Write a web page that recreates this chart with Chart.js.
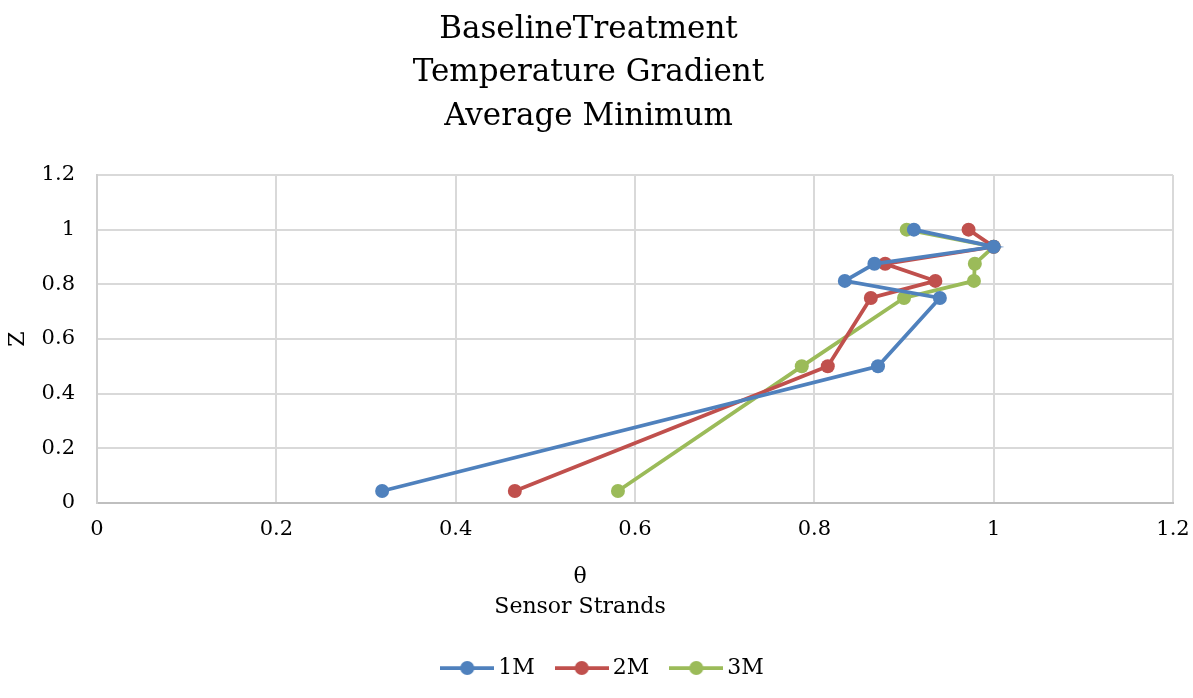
<!DOCTYPE html>
<html>
<head>
<meta charset="utf-8">
<title>BaselineTreatment Temperature Gradient</title>
<script src="https://cdn.jsdelivr.net/npm/chart.js@4/dist/chart.umd.min.js"></script>
<style>
  html, body { margin: 0; padding: 0; background: #fff; }
  #wrap { width: 1193px; height: 698px; position: relative; }
</style>
</head>
<body>
<div id="wrap"><canvas id="gradChart"></canvas></div>
<script>
// Sensor heights (Z) and the averaged minimum theta for each strand
const zLevels = [0.044, 0.5, 0.75, 0.8125, 0.875, 0.9375, 1];
const theta1M = [0.318, 0.871, 0.940, 0.834, 0.867, 1.0, 0.911];
const theta2M = [0.466, 0.815, 0.863, 0.935, 0.879, 1.0, 0.972];
const theta3M = [0.581, 0.786, 0.900, 0.978, 0.979, 1.0, 0.903];
const seriesNames = ['1M', '2M', '3M'];
const axisTicks = [0, 0.2, 0.4, 0.6, 0.8, 1, 1.2];

const seriesColors = ['#4f81bd', '#c0504d', '#9bbb59'];
const serif = "'DejaVu Serif', 'Liberation Serif', serif";

function toPoints(thetas) {
  return thetas.map((t, i) => ({ x: t, y: zLevels[i] }));
}

// line-with-dot swatch for the legend
function legendIcon(color) {
  const c = document.createElement('canvas');
  c.width = 54; c.height = 16;
  const g = c.getContext('2d');
  g.strokeStyle = color;
  g.lineWidth = 3.75;
  g.beginPath(); g.moveTo(0, 8); g.lineTo(54, 8); g.stroke();
  g.fillStyle = color;
  g.beginPath(); g.arc(27, 8, 7, 0, Math.PI * 2); g.fill();
  return c;
}

// x axis caption sits a little left of the plot centre
const axisCaption = {
  id: 'axisCaption',
  afterLayout(chart) {
    // nudge the legend row to the right
    if (chart.legend) {
      chart.legend.left += 17;
      chart.legend.right += 17;
    }
  },
  afterDraw(chart) {
    const ctx = chart.ctx;
    ctx.save();
    ctx.fillStyle = '#000';
    ctx.font = "22px " + serif;
    ctx.textAlign = 'center';
    ctx.textBaseline = 'middle';
    ctx.fillText('θ', 580, 577);
    ctx.fillText('Sensor Strands', 580, 607);
    ctx.restore();
  }
};

function fixedTicks(scale) {
  scale.ticks = axisTicks.map((v) => ({ value: v }));
}

const datasets = [theta1M, theta2M, theta3M].map((vals, i) => ({
  label: seriesNames[i],
  data: toPoints(vals),
  showLine: true,
  borderColor: seriesColors[i],
  backgroundColor: seriesColors[i],
  borderWidth: 3.75,
  pointRadius: 7,
  pointBorderWidth: 0,
  pointBackgroundColor: seriesColors[i],
  tension: 0,
}));

new Chart(document.getElementById('gradChart'), {
  type: 'scatter',
  data: { datasets },
  plugins: [axisCaption],
  options: {
    responsive: true,
    maintainAspectRatio: false,
    animation: false,
    layout: { padding: { left: 4, right: 20, top: 0, bottom: 9 } },
    plugins: {
      title: {
        display: true,
        text: ['BaselineTreatment', 'Temperature Gradient', 'Average Minimum'],
        color: '#000',
        font: { family: serif, size: 31, weight: 'normal', lineHeight: 1.403 },
        padding: { top: 8, bottom: 36.5 },
      },
      legend: {
        position: 'bottom',
        labels: {
          color: '#000',
          font: { family: serif, size: 22 },
          usePointStyle: true,
          pointStyleWidth: 40,
          padding: 27,
          generateLabels(chart) {
            return Chart.defaults.plugins.legend.labels.generateLabels(chart)
              .map((item, i) => ({ ...item, pointStyle: legendIcon(seriesColors[i]) }));
          },
        },
      },
      tooltip: { enabled: false },
    },
    scales: {
      x: {
        type: 'linear',
        min: 0,
        max: 1.2,
        afterBuildTicks: fixedTicks,
        afterFit(scale) {
          scale.height = 127;
          // let the end labels hang into the outer margin
          scale.paddingLeft = 0;
          scale.paddingRight = 0;
        },
        grid: { color: '#d9d9d9', lineWidth: 2, drawTicks: false },
        border: { color: '#bfbfbf', width: 2 },
        ticks: {
          color: '#000',
          padding: 14,
          font: { family: serif, size: 21 },
          callback: (v) => String(v),
        },
      },
      y: {
        type: 'linear',
        min: 0,
        max: 1.2,
        afterBuildTicks: fixedTicks,
        afterFit(scale) { scale.width = 93; },
        grid: { color: '#d9d9d9', lineWidth: 2, drawTicks: false },
        border: { color: '#cfcfcf', width: 2 },
        ticks: {
          color: '#000',
          padding: 22,
          font: { family: serif, size: 21 },
          callback: (v) => String(v),
        },
        title: {
          display: true,
          text: 'Z',
          color: '#000',
          font: { family: serif, size: 22 },
          padding: { top: 1, bottom: 0 },
        },
      },
    },
  },
});
</script>
</body>
</html>
